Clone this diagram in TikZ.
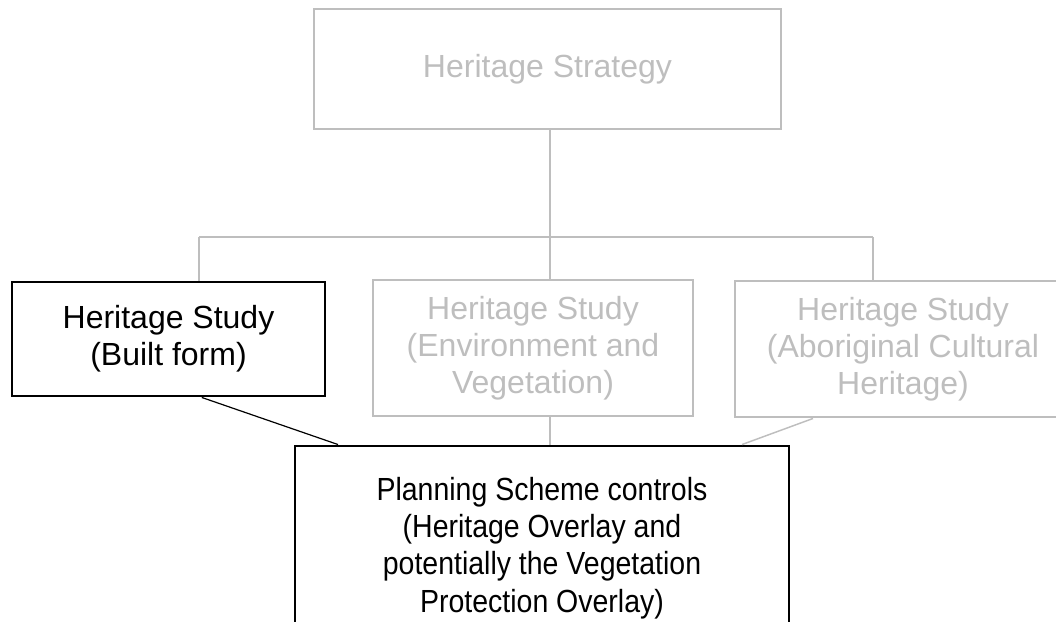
\documentclass[tikz,border=0pt]{standalone}
\usepackage{fontspec}
\setmainfont{Liberation Sans}
\newfontfamily\narrowfont[FakeStretch=0.89]{Liberation Sans}
\definecolor{faded}{RGB}{190,190,190}

\begin{document}
\begin{tikzpicture}[x=0.75pt,y=-0.75pt,line cap=butt]
	\tikzstyle{box}=[draw=black,line width=2.2pt,align=center,inner sep=0pt,font=\fontsize{24}{27.8}\selectfont];
	\tikzstyle{greybox}=[box,draw=faded,text=faded];
	\tikzstyle{greyline}=[draw=faded,line width=1.1pt];
	\tikzstyle{blackline}=[draw=black,line width=0.9pt];

	\useasboundingbox (0,0) rectangle (1056,621);

	\node[greybox,minimum width=467*0.75pt,minimum height=120*0.75pt] (strat) at (547.5,69) {Heritage Strategy};
	\node[box,minimum width=313*0.75pt,minimum height=114*0.75pt] (built) at (168.5,339) {Heritage Study\\(Built form)};
	\node[greybox,minimum width=320*0.75pt,minimum height=136*0.75pt] (env) at (533,348) {Heritage Study\\(Environment and\\Vegetation)};
	\node[greybox,minimum width=336*0.75pt,minimum height=136*0.75pt] (abor) at (903,349) {Heritage Study\\(Aboriginal Cultural\\Heritage)};
	\node[box,fill=white,font=\narrowfont\fontsize{24}{28}\selectfont,minimum width=494*0.75pt,minimum height=204*0.75pt] (plan) at (542,548) {Planning Scheme controls\\(Heritage Overlay and\\potentially the Vegetation\\Protection Overlay)};

	\coordinate (busL) at (199,237);
	\coordinate (busM) at (550,237);
	\coordinate (busR) at (873,237);

	\draw[greyline] (strat.south -| busM) -- (busM);
	\draw[greyline] (busL) -- (busR);
	\draw[greyline] (busL) -- (busL |- built.north);
	\draw[greyline] (busM) -- (busM |- env.north);
	\draw[greyline] (busR) -- (busR |- abor.north);

	\draw[blackline] ([xshift=25pt]built.south) -- ([xshift=-153pt]plan.north);
	\draw[greyline] (env.south -| busM) -- (plan.north -| busM);
	\draw[greyline] ([xshift=-67.5pt]abor.south) -- ([xshift=150pt]plan.north);
\end{tikzpicture}
\end{document}
